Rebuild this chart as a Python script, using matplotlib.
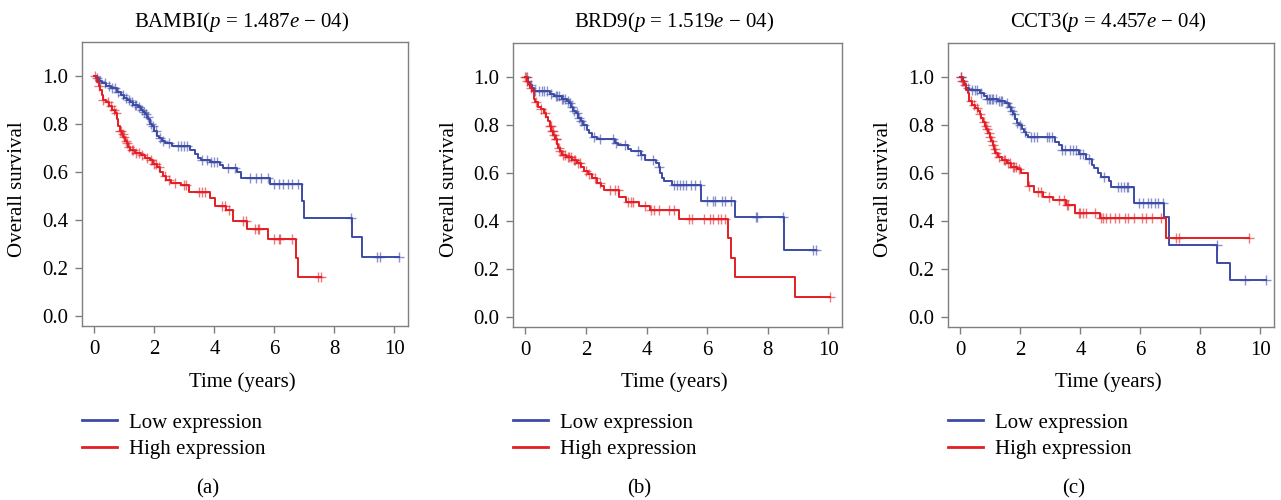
import numpy as np
import matplotlib
matplotlib.use('Agg')
import matplotlib.pyplot as plt
from matplotlib.lines import Line2D

plt.rcParams['font.family'] = ['Liberation Serif', 'DejaVu Serif']
plt.rcParams['mathtext.fontset'] = 'custom'
plt.rcParams['mathtext.rm'] = 'Liberation Serif'
plt.rcParams['mathtext.it'] = 'Liberation Serif:italic'

BLUE = '#3c4ba6'
RED = '#e31e24'
GREY = '#7f7f7f'

# ---- data: step times / survival after each drop, censor times ----
genes = ['BAMBI', 'BRD9', 'CCT3']
pvals = ['1.487', '1.519', '4.457']
letters = ['(a)', '(b)', '(c)']

a_low_t = [0, 0.08, 0.15, 0.25, 0.4, 0.55, 0.75, 0.9, 1.0, 1.1, 1.2, 1.3, 1.45, 1.55, 1.62, 1.7, 1.75, 1.8,
           1.85, 1.92, 2.0, 2.08, 2.15, 2.25, 2.35, 2.6, 3.2, 3.35, 3.45, 3.55, 3.85, 4.2, 4.3, 4.75, 4.9,
           5.85, 6.93, 6.97, 8.57, 8.93]
a_low_s = [1.0, 0.99, 0.98, 0.97, 0.96, 0.95, 0.935, 0.92, 0.91, 0.9, 0.89, 0.88, 0.87, 0.86, 0.85, 0.84, 0.83,
           0.82, 0.80, 0.79, 0.77, 0.75, 0.74, 0.73, 0.72, 0.71, 0.69, 0.675, 0.66, 0.65, 0.64, 0.63, 0.615,
           0.60, 0.575, 0.548, 0.48, 0.41, 0.33, 0.245]
a_low_end = 10.16
a_low_c = [0.1, 0.2, 0.35, 0.5, 0.6, 0.68, 0.8, 0.95, 1.05, 1.15, 1.25, 1.35, 1.4, 1.5, 1.58, 1.65, 1.72, 1.78,
           1.88, 1.95, 2.05, 2.2, 2.3, 2.5, 2.8, 2.9, 3.0, 3.1, 3.6, 3.75, 3.9, 4.0, 4.1, 4.45, 4.7, 5.2, 5.4,
           5.55, 5.8, 6.0, 6.15, 6.3, 6.45, 6.6, 6.8, 8.55, 9.43, 9.52, 10.16]

a_high_t = [0, 0.05, 0.1, 0.15, 0.2, 0.25, 0.3, 0.38, 0.48, 0.6, 0.68, 0.75, 0.8, 0.85, 0.92, 0.97, 1.03, 1.08,
            1.13, 1.2, 1.35, 1.55, 1.7, 1.85, 1.97, 2.1, 2.2, 2.3, 2.4, 2.55, 2.9, 3.15, 3.85, 4.03, 4.4,
            4.62, 5.08, 5.8, 6.72, 6.8]
a_high_s = [1.0, 0.99, 0.975, 0.96, 0.94, 0.92, 0.90, 0.89, 0.875, 0.86, 0.845, 0.82, 0.79, 0.77, 0.76, 0.745,
            0.73, 0.72, 0.705, 0.69, 0.68, 0.67, 0.66, 0.65, 0.635, 0.62, 0.60, 0.585, 0.565, 0.555, 0.545,
            0.515, 0.49, 0.46, 0.44, 0.395, 0.363, 0.322, 0.24, 0.163]
a_high_end = 7.54
a_high_c = [0.02, 0.15, 0.3, 0.45, 0.55, 0.65, 0.72, 0.85, 0.9, 0.95, 1.0, 1.05, 1.1, 1.15, 1.25, 1.3, 1.4,
            1.5, 1.6, 1.75, 1.9, 2.0, 2.05, 2.15, 2.35, 2.5, 2.7, 3.0, 3.05, 3.5, 3.6, 3.7, 4.25, 4.35, 4.5,
            4.95, 5.05, 5.35, 5.45, 5.5, 6.0, 6.15, 6.2, 6.6, 7.45, 7.54]

b_low_t = [0, 0.1, 0.15, 0.22, 0.28, 0.82, 0.95, 1.2, 1.38, 1.45, 1.52, 1.58, 1.66, 1.74, 1.82, 1.9, 2.02,
           2.1, 2.2, 2.35, 2.95, 3.05, 3.4, 3.5, 3.8, 3.95, 4.3, 4.4, 4.45, 4.52, 4.58, 4.85, 5.8, 6.92, 8.53]
b_low_s = [1.0, 0.98, 0.965, 0.955, 0.942, 0.93, 0.92, 0.91, 0.90, 0.89, 0.875, 0.86, 0.85, 0.83, 0.815,
           0.80, 0.78, 0.765, 0.75, 0.74, 0.725, 0.715, 0.70, 0.69, 0.675, 0.655, 0.64, 0.625, 0.60, 0.58,
           0.565, 0.55, 0.485, 0.415, 0.277]
b_low_end = 9.59
b_low_c = [0.05, 0.18, 0.3, 0.45, 0.55, 0.6, 0.7, 0.85, 1.0, 1.05, 1.1, 1.2, 1.25, 1.3, 1.4, 1.48, 1.55, 1.62,
           1.7, 1.78, 1.85, 1.95, 2.25, 2.45, 2.9, 3.0, 3.3, 3.7, 3.8, 4.2, 4.4, 4.9, 5.0, 5.1, 5.2, 5.3,
           5.45, 5.6, 5.75, 6.0, 6.2, 6.25, 6.5, 6.6, 6.8, 7.6, 7.65, 8.5, 9.5, 9.59]

b_high_t = [0, 0.05, 0.1, 0.15, 0.22, 0.27, 0.32, 0.42, 0.5, 0.6, 0.68, 0.74, 0.8, 0.86, 0.92, 0.98, 1.04,
            1.08, 1.13, 1.2, 1.35, 1.55, 1.7, 1.85, 1.95, 2.07, 2.2, 2.35, 2.5, 2.6, 3.1, 3.32, 3.75, 4.1,
            5.08, 6.68, 6.79, 6.93, 8.91]
b_high_s = [1.0, 0.985, 0.97, 0.955, 0.94, 0.91, 0.895, 0.875, 0.865, 0.85, 0.835, 0.815, 0.795, 0.775,
            0.76, 0.74, 0.72, 0.705, 0.69, 0.675, 0.665, 0.655, 0.64, 0.625, 0.61, 0.597, 0.58, 0.56, 0.545,
            0.528, 0.50, 0.48, 0.463, 0.445, 0.41, 0.328, 0.246, 0.167, 0.084]
b_high_end = 10.05
b_high_c = [0.0, 0.02, 0.05, 0.2, 0.35, 0.5, 0.65, 0.8, 0.85, 0.88, 0.9, 0.95, 1.0, 1.02, 1.1, 1.15, 1.25,
            1.3, 1.4, 1.45, 1.5, 1.6, 1.65, 1.75, 1.8, 2.0, 2.1, 2.3, 2.45, 2.8, 2.95, 3.05, 3.4, 3.5, 3.55,
            3.95, 4.15, 4.25, 4.4, 4.75, 4.9, 5.4, 5.5, 5.9, 6.1, 6.2, 6.35, 6.45, 6.6, 10.05]

c_low_t = [0, 0.08, 0.12, 0.18, 0.3, 0.65, 0.78, 0.88, 1.25, 1.5, 1.62, 1.7, 1.76, 1.82, 1.88, 1.94, 2.05,
           2.12, 2.2, 2.27, 3.15, 3.3, 3.38, 3.97, 4.2, 4.38, 4.45, 4.6, 4.68, 4.95, 5.03, 5.8, 6.8, 6.95,
           8.56, 8.97]
c_low_s = [1.0, 0.985, 0.97, 0.955, 0.945, 0.935, 0.92, 0.91, 0.90, 0.89, 0.875, 0.86, 0.845, 0.825, 0.81,
           0.80, 0.785, 0.77, 0.76, 0.75, 0.73, 0.715, 0.695, 0.68, 0.66, 0.635, 0.62, 0.60, 0.585, 0.565,
           0.543, 0.476, 0.418, 0.298, 0.224, 0.152]
c_low_end = 10.19
c_low_c = [0.02, 0.1, 0.25, 0.4, 0.5, 0.55, 0.7, 0.9, 0.95, 1.0, 1.05, 1.1, 1.2, 1.3, 1.35, 1.4, 1.55, 1.65,
           1.72, 1.8, 1.9, 2.0, 2.15, 2.35, 2.45, 2.55, 2.9, 2.95, 3.05, 3.4, 3.5, 3.65, 3.75, 3.85, 4.0,
           4.1, 4.3, 4.8, 5.25, 5.35, 5.45, 5.55, 5.6, 5.95, 6.1, 6.25, 6.35, 6.5, 6.6, 6.75, 8.55, 9.5,
           10.19]

c_high_t = [0, 0.05, 0.12, 0.2, 0.26, 0.3, 0.4, 0.48, 0.58, 0.64, 0.7, 0.75, 0.82, 0.87, 0.93, 0.98, 1.03,
            1.08, 1.12, 1.17, 1.25, 1.4, 1.55, 1.7, 1.9, 2.03, 2.25, 2.47, 2.75, 3.09, 3.53, 3.81, 4.64, 6.84]
c_high_s = [1.0, 0.985, 0.965, 0.945, 0.935, 0.90, 0.885, 0.872, 0.86, 0.845, 0.83, 0.812, 0.795, 0.785,
            0.765, 0.75, 0.735, 0.715, 0.70, 0.685, 0.668, 0.655, 0.64, 0.627, 0.615, 0.598, 0.545, 0.522,
            0.501, 0.487, 0.467, 0.435, 0.411, 0.328]
c_high_end = 9.63
c_high_c = [0.02, 0.05, 0.15, 0.35, 0.45, 0.55, 0.65, 0.78, 0.85, 0.9, 0.95, 1.0, 1.05, 1.1, 1.15, 1.2, 1.3,
            1.45, 1.5, 1.6, 1.65, 1.75, 1.8, 1.85, 1.95, 2.3, 2.6, 2.7, 2.95, 3.3, 3.45, 3.55, 3.6, 3.95,
            4.0, 4.1, 4.2, 4.5, 4.7, 4.75, 4.85, 5.0, 5.15, 5.3, 5.5, 5.6, 5.8, 6.05, 6.2, 6.4, 6.7, 7.2,
            7.3, 9.63]

panels = [
    ((a_low_t, a_low_s, a_low_end, a_low_c), (a_high_t, a_high_s, a_high_end, a_high_c)),
    ((b_low_t, b_low_s, b_low_end, b_low_c), (b_high_t, b_high_s, b_high_end, b_high_c)),
    ((c_low_t, c_low_s, c_low_end, c_low_c), (c_high_t, c_high_s, c_high_end, c_high_c)),
]

W, H = 1281, 500
fig = plt.figure(figsize=(W / 100, H / 100), dpi=100)

# axes boxes in pixels: left, right, top, bottom
boxes = [(82, 408, 42, 326), (513, 842, 43, 327), (948, 1274, 43, 327)]


def km(ax, times, surv, end, cens, color):
    times = np.asarray(times)
    surv = np.asarray(surv)
    ax.step(np.append(times, end), np.append(surv, surv[-1]), where='post', color=color, lw=1.4)
    idx = np.searchsorted(times, cens, side='right') - 1
    ax.plot(cens, surv[idx], '+', color=color, ms=7, mew=1.0, alpha=0.6)


for i, (low, high) in enumerate(panels):
    l, r, t, b = boxes[i]
    ax = fig.add_axes([l / W, 1 - b / H, (r - l) / W, (b - t) / H])
    km(ax, *low, BLUE)
    km(ax, *high, RED)
    ax.set_xlim(-0.41, 10.45)
    ax.set_ylim(-0.042, 1.142)
    ax.set_xticks([0, 2, 4, 6, 8, 10])
    ax.set_yticks([0, 0.2, 0.4, 0.6, 0.8, 1.0])
    ax.set_yticklabels(['0.0', '0.2', '0.4', '0.6', '0.8', '1.0'])
    for sp in ax.spines.values():
        sp.set_color(GREY)
        sp.set_linewidth(1.0)
    ax.tick_params(direction='out', length=5, width=1, color=GREY, labelsize=15, pad=5)

    cx = (l + r) / 2 - 3
    fig.text(cx / W, 1 - 27 / H, genes[i] + '($p$ = ' + pvals[i] + '$e$ \u2212 04)',
             ha='center', va='baseline', fontsize=15)
    fig.text(cx / W, 1 - 387 / H, 'Time (years)', ha='center', va='baseline', fontsize=15)
    fig.text((l - 64) / W, 1 - 189 / H, 'Overall survival', rotation=90,
             ha='center', va='center', fontsize=15)
    fig.text((l + 126) / W, 1 - 489 / H, letters[i], ha='center', va='center', fontsize=15)

    handles = [Line2D([], [], color=BLUE, lw=2), Line2D([], [], color=RED, lw=2)]
    ax.legend(handles, ['Low expression', 'High expression'], loc='upper left',
              bbox_to_anchor=(l / W, 1 - 413 / H), bbox_transform=fig.transFigure,
              frameon=False, fontsize=15, borderpad=0, borderaxespad=0,
              handlelength=1.7, handletextpad=0.55, labelspacing=0.35)

fig.savefig('out.png', dpi=100)
